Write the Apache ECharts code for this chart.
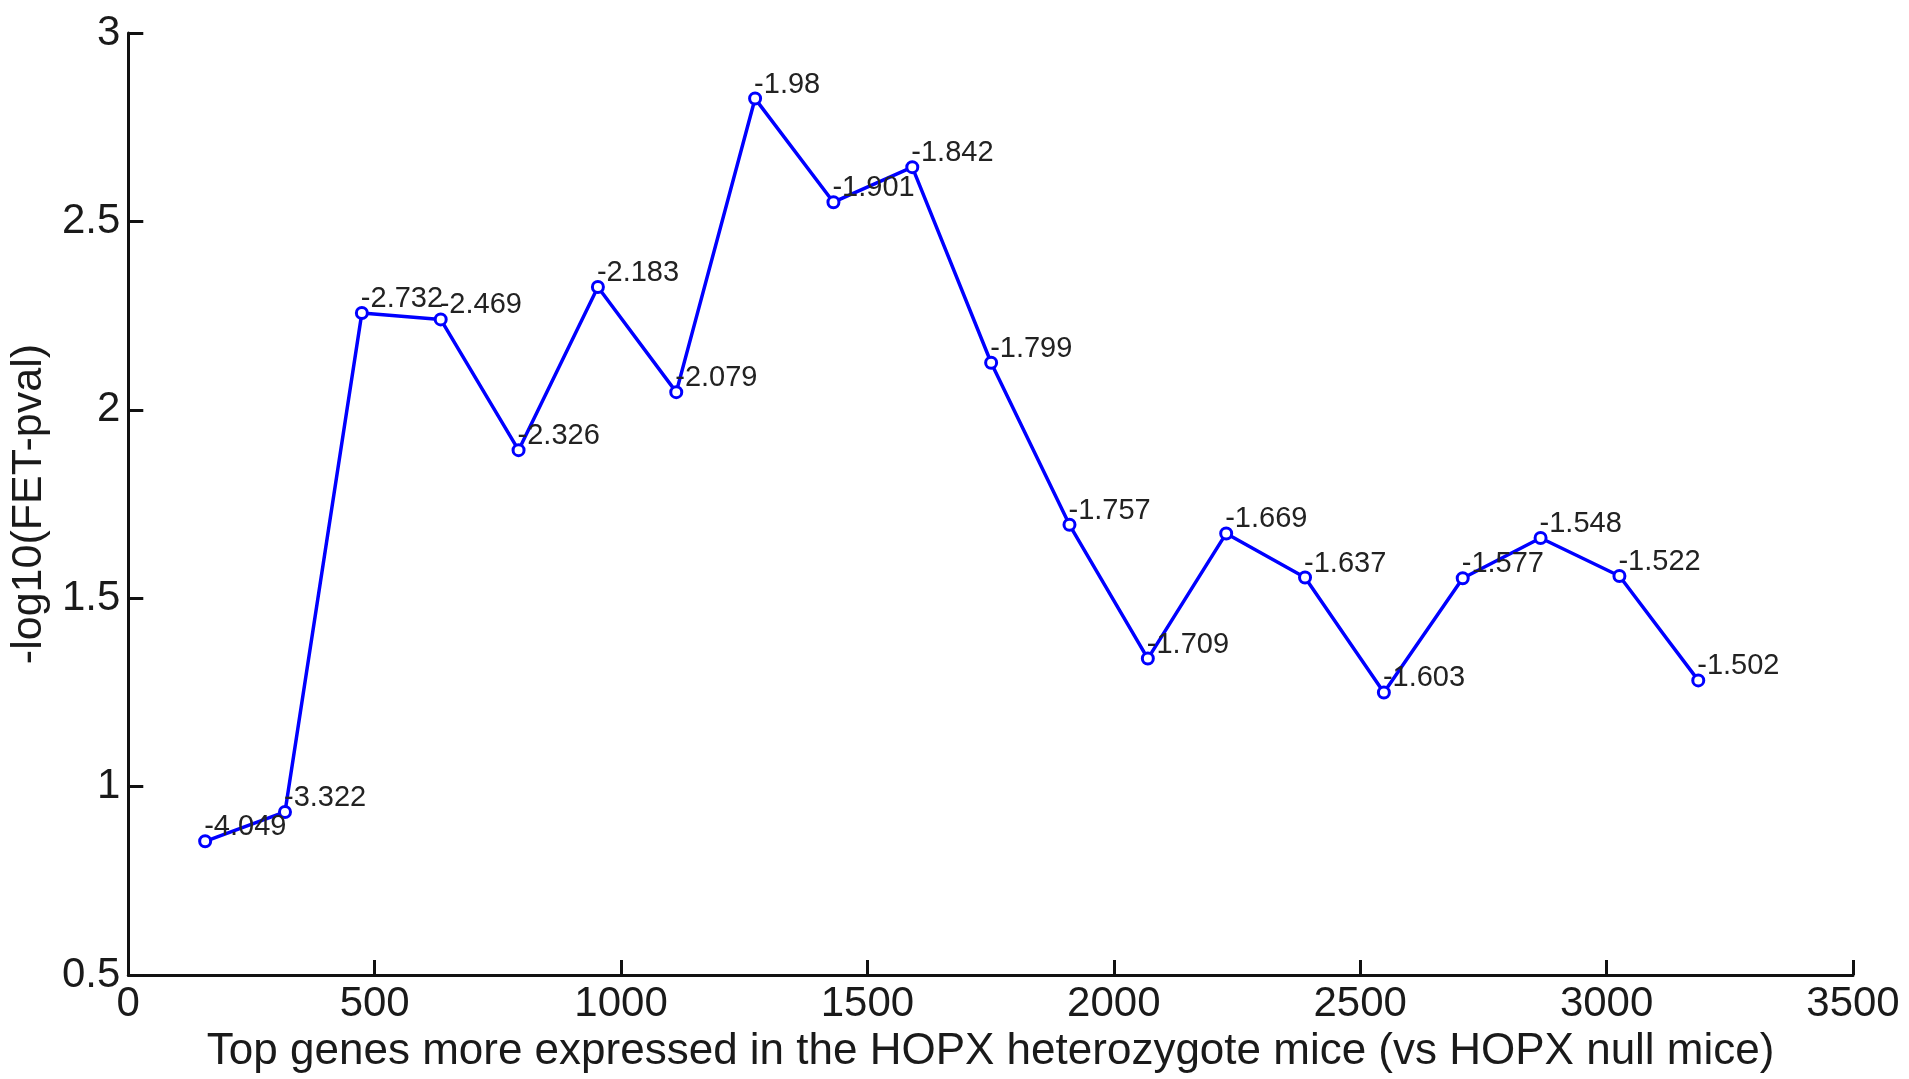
<!DOCTYPE html>
<html>
<head>
<meta charset="utf-8">
<script src="https://cdn.jsdelivr.net/npm/echarts@6/dist/echarts.min.js"></script>
<style>
html,body{margin:0;padding:0;background:#fff;}
#chart{width:1909px;height:1079px;}
</style>
</head>
<body>
<div id="chart"></div>
<script>
// Data
const xValues = [156, 318, 474, 634, 792, 953, 1112, 1272, 1431, 1591, 1751, 1910, 2069, 2228, 2388, 2548, 2708, 2866, 3026, 3186];
const yValues = [0.855, 0.933, 2.257, 2.240, 1.893, 2.326, 2.047, 2.826, 2.551, 2.644, 2.125, 1.695, 1.340, 1.672, 1.555, 1.250, 1.553, 1.660, 1.559, 1.282];
const pointLabels = ['-4.049', '-3.322', '-2.732', '-2.469', '-2.326', '-2.183', '-2.079', '-1.98', '-1.901', '-1.842', '-1.799', '-1.757', '-1.709', '-1.669', '-1.637', '-1.603', '-1.577', '-1.548', '-1.522', '-1.502'];
const xTicks = [0, 500, 1000, 1500, 2000, 2500, 3000, 3500];
const yTicks = [0.5, 1, 1.5, 2, 2.5, 3];
const xTitle = 'Top genes more expressed in the HOPX heterozygote mice (vs HOPX null mice)';
const yTitle = '-log10(FET-pval)';

const seriesData = xValues.map((x, i) => [x, yValues[i], pointLabels[i]]);
const FONT = 'Liberation Sans, Arial, sans-serif';

const chart = echarts.init(document.getElementById('chart'), null, {renderer: 'canvas'});
chart.setOption({
  animation: false,
  backgroundColor: '#ffffff',
  grid: {left: 126, right: 56, top: 33, bottom: 102, containLabel: false},
  xAxis: {
    type: 'value',
    min: xTicks[0],
    max: xTicks[xTicks.length - 1],
    interval: 500,
    name: xTitle,
    nameLocation: 'middle',
    nameGap: 50,
    nameTextStyle: {fontFamily: FONT, fontSize: 44, color: '#1a1a1a'},
    axisLine: {show: true, onZero: false, lineStyle: {color: '#111', width: 3}},
    axisTick: {show: true, inside: true, length: 15, lineStyle: {color: '#111', width: 3}},
    axisLabel: {fontFamily: FONT, fontSize: 42, color: '#1a1a1a', margin: 8, formatter: v => String(v)},
    splitLine: {show: false}
  },
  yAxis: {
    type: 'value',
    min: yTicks[0],
    max: yTicks[yTicks.length - 1],
    interval: 0.5,
    name: yTitle,
    nameLocation: 'middle',
    nameGap: 72,
    nameRotate: 90,
    nameTextStyle: {fontFamily: FONT, fontSize: 43, color: '#1a1a1a'},
    axisLine: {show: true, onZero: false, lineStyle: {color: '#111', width: 3}},
    axisTick: {show: true, inside: true, length: 15, lineStyle: {color: '#111', width: 3}},
    axisLabel: {fontFamily: FONT, fontSize: 42, color: '#1a1a1a', margin: 8, formatter: v => String(v)},
    splitLine: {show: false}
  },
  series: [{
    type: 'line',
    data: seriesData,
    encode: {x: 0, y: 1},
    symbol: 'circle',
    symbolSize: 11,
    showAllSymbol: true,
    lineStyle: {color: '#0000ff', width: 3.5},
    itemStyle: {color: '#ffffff', borderColor: '#0000ff', borderWidth: 3},
    label: {
      show: true,
      position: [6, -7],
      align: 'left',
      verticalAlign: 'middle',
      fontFamily: FONT,
      fontSize: 29,
      color: '#222',
      formatter: p => p.data[2]
    },
    labelLayout: {hideOverlap: false},
    emphasis: {disabled: true},
    z: 3
  }]
});
</script>
</body>
</html>
